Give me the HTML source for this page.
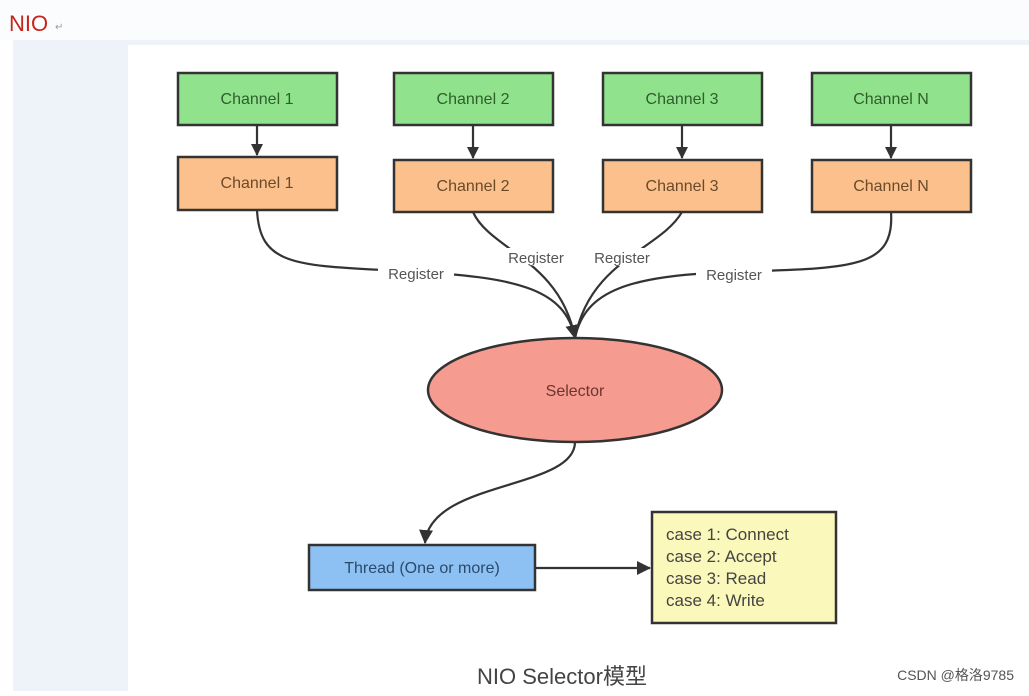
<!DOCTYPE html>
<html><head><meta charset="utf-8"><style>
body{margin:0;width:1029px;height:691px;overflow:hidden;background:#fff;font-family:"Liberation Sans","Noto Sans CJK SC",sans-serif}
</style></head><body>
<svg width="1029" height="691" viewBox="0 0 1029 691" xmlns="http://www.w3.org/2000/svg" font-family="Liberation Sans, Noto Sans CJK SC, sans-serif">
<defs><marker id="a" markerWidth="12" markerHeight="16" refX="11" refY="6" orient="auto" markerUnits="userSpaceOnUse"><path d="M0,0 L12,6 L0,12 z" fill="#333"/></marker>
<marker id="b" markerWidth="14" markerHeight="20" refX="13" refY="7" orient="auto" markerUnits="userSpaceOnUse"><path d="M0,0 L14,7 L0,14 z" fill="#333"/></marker></defs>
<rect x="0" y="0" width="1029" height="40" fill="#fbfcfe"/>
<rect x="13" y="40" width="1016" height="651" fill="#eef3fa"/>
<rect x="128" y="45" width="901" height="646" fill="#fff"/>
<text x="9" y="31" font-size="22" fill="#c8251c">NIO</text><text x="55" y="30" font-size="10" fill="#999">↵</text>
<g stroke="#333" stroke-width="2.5">
<rect x="178" y="73" width="159" height="52" fill="#90e38c"/>
<rect x="394" y="73" width="159" height="52" fill="#90e38c"/>
<rect x="603" y="73" width="159" height="52" fill="#90e38c"/>
<rect x="812" y="73" width="159" height="52" fill="#90e38c"/>
<rect x="178" y="157" width="159" height="53" fill="#fbc08c"/>
<rect x="394" y="160" width="159" height="52" fill="#fbc08c"/>
<rect x="603" y="160" width="159" height="52" fill="#fbc08c"/>
<rect x="812" y="160" width="159" height="52" fill="#fbc08c"/>
<ellipse cx="575" cy="390" rx="147" ry="52" fill="#f59b8f"/>
<rect x="309" y="545" width="226" height="45" fill="#8ec1f3"/>
<rect x="652" y="512" width="184" height="111" fill="#fbf8bb"/>
</g>
<g stroke="#333" stroke-width="2.2" fill="none">
<line x1="257" y1="125" x2="257" y2="155" marker-end="url(#a)"/>
<line x1="473" y1="125" x2="473" y2="158" marker-end="url(#a)"/>
<line x1="682" y1="125" x2="682" y2="158" marker-end="url(#a)"/>
<line x1="891" y1="125" x2="891" y2="158" marker-end="url(#a)"/>
<path d="M257,210 C260,270 300,265 420,272 C520,278 565,290 575,338" marker-end="url(#b)"/>
<path d="M473,212 C490,250 560,260 575,338"/>
<path d="M682,212 C660,250 590,260 575,338"/>
<path d="M891,212 C895,270 850,268 730,272 C630,276 585,290 575,338"/>
<path d="M575,442 C575,490 430,480 425,543" marker-end="url(#b)"/>
<line x1="535" y1="568" x2="650" y2="568" marker-end="url(#b)"/>
</g>
<g font-size="15" fill="#555" text-anchor="middle">
<rect x="378" y="264" width="76" height="18" fill="#fff"/><text x="416" y="279">Register</text>
<rect x="498" y="248" width="76" height="18" fill="#fff"/><text x="536" y="263">Register</text>
<rect x="584" y="248" width="76" height="18" fill="#fff"/><text x="622" y="263">Register</text>
<rect x="696" y="265" width="76" height="18" fill="#fff"/><text x="734" y="280">Register</text>
</g>
<g font-size="16" text-anchor="middle">
<g fill="#2d5e2b"><text x="257" y="104">Channel 1</text><text x="473" y="104">Channel 2</text><text x="682" y="104">Channel 3</text><text x="891" y="104">Channel N</text></g>
<g fill="#6b4a2a"><text x="257" y="188">Channel 1</text><text x="473" y="191">Channel 2</text><text x="682" y="191">Channel 3</text><text x="891" y="191">Channel N</text></g>
<text x="575" y="396" fill="#6b3530">Selector</text>
<text x="422" y="573" fill="#2a4a6b">Thread (One or more)</text>
</g>
<g font-size="17" fill="#444"><text x="666" y="540">case 1:  Connect</text><text x="666" y="562">case 2:  Accept</text><text x="666" y="584">case 3:  Read</text><text x="666" y="606">case 4:  Write</text></g>
<text x="562" y="684" font-size="22" fill="#444" text-anchor="middle">NIO Selector模型</text>
<text x="1014" y="680" font-size="14" fill="#555" text-anchor="end">CSDN @格洛9785</text>
</svg>
</body></html>
